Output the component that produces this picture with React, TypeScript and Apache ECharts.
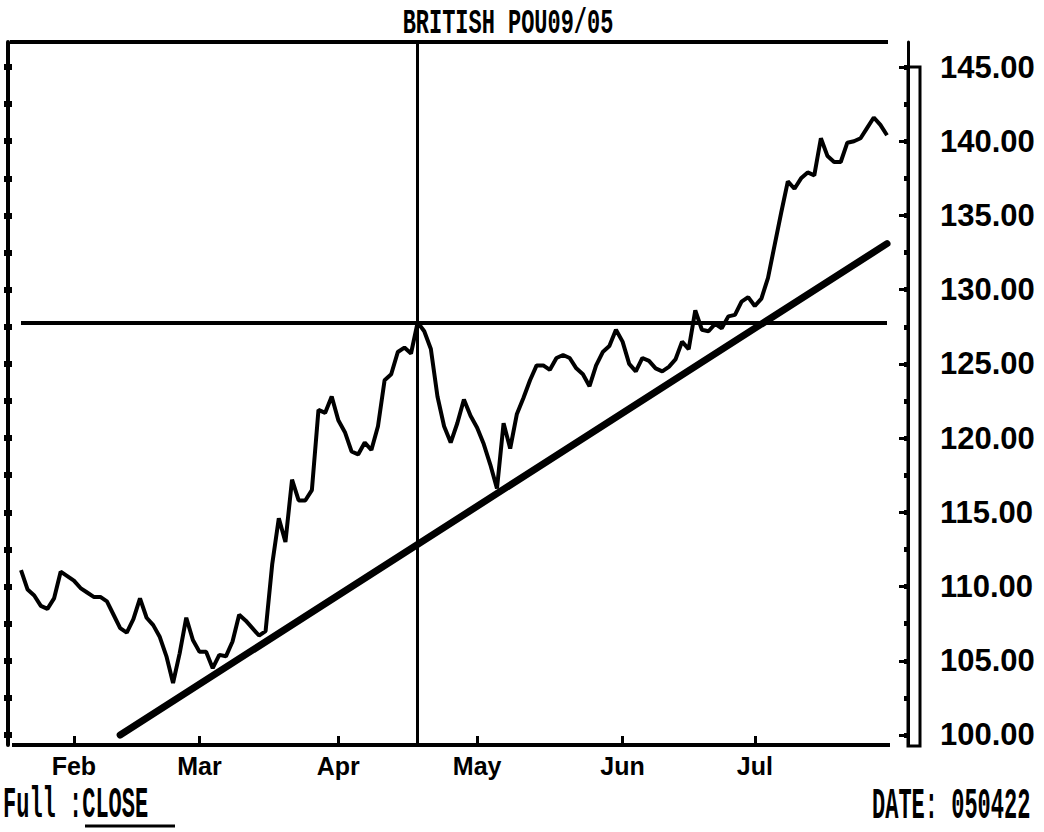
import React, { useEffect, useRef } from "react";
import * as echarts from "echarts";

const TITLE = "BRITISH POU09/05";
const FOOT_LEFT = "Full :CLOSE";
const FOOT_RIGHT = "DATE: 050422";

const START_DATE = "1985-01-22";
const END_DATE = "1985-07-30";
const HOLIDAYS = ["1985-02-18", "1985-04-05", "1985-05-27", "1985-07-04"];
const MONTH_NAMES = ["Jan", "Feb", "Mar", "Apr", "May", "Jun", "Jul", "Aug", "Sep", "Oct", "Nov", "Dec"];

// daily closes, one per trading day from START_DATE to END_DATE
const closeValues = [
  111.1, 109.8, 109.4, 108.7, 108.5, 109.2, 111.0, 110.7, 110.4, 109.9,
  109.6, 109.3, 109.3, 109.0, 108.1, 107.2, 106.9, 107.8, 109.2, 107.9,
  107.4, 106.6, 105.3, 103.5, 105.5, 107.9, 106.4, 105.6, 105.6, 104.5,
  105.4, 105.3, 106.3, 108.1, 107.7, 107.2, 106.7, 107.0, 111.5, 114.6,
  113.0, 117.2, 115.8, 115.8, 116.5, 121.9, 121.7, 122.8, 121.2, 120.4,
  119.1, 118.9, 119.7, 119.2, 120.8, 123.9, 124.3, 125.8, 126.1, 125.7,
  127.8, 127.2, 126.0, 122.8, 120.8, 119.7, 121.0, 122.6, 121.5, 120.7,
  119.6, 118.2, 116.6, 121.0, 119.3, 121.6, 122.7, 123.9, 124.9, 124.9,
  124.6, 125.4, 125.6, 125.4, 124.7, 124.3, 123.5, 124.9, 125.8, 126.2,
  127.3, 126.5, 125.0, 124.5, 125.4, 125.2, 124.7, 124.5, 124.8, 125.3,
  126.5, 126.0, 128.6, 127.3, 127.2, 127.7, 127.4, 128.2, 128.3, 129.2,
  129.5, 128.9, 129.4, 130.8, 133.0, 135.2, 137.3, 136.8, 137.5, 137.9,
  137.7, 140.2, 139.0, 138.6, 138.6, 139.9, 140.0, 140.2, 140.9, 141.6,
  141.1, 140.4,
];

const yTickLabels = [100, 105, 110, 115, 120, 125, 130, 135, 140, 145];
const yMinorTicks = [
  100, 102.5, 105, 107.5, 110, 112.5, 115, 117.5, 120, 122.5,
  125, 127.5, 130, 132.5, 135, 137.5, 140, 142.5, 145,
];
const Y_MIN = 99.326;
const Y_MAX = 146.685;

const resistanceLevel = 127.8;
const cursorIndex = 60;
const trendStartIndex = 15;
const trendStartValue = 100.0;
const trendEndIndex = 131;
const trendEndValue = 133.1;

function tradingDays(start: string, end: string, holidays: string[]) {
  const out: string[] = [];
  const d = new Date(start + "T00:00:00Z");
  const e = new Date(end + "T00:00:00Z");
  while (d <= e) {
    const wd = d.getUTCDay();
    const s = d.toISOString().slice(0, 10);
    if (wd !== 0 && wd !== 6 && !holidays.includes(s)) out.push(s);
    d.setUTCDate(d.getUTCDate() + 1);
  }
  return out;
}

const dates = tradingDays(START_DATE, END_DATE, HOLIDAYS);

const SANS = "'Liberation Sans', Arial, sans-serif";
const MONO = "'Liberation Mono', 'DejaVu Sans Mono', monospace";

export default function App() {
  const ref = useRef<HTMLDivElement>(null);

  useEffect(() => {
    if (!ref.current) return;
    const chart = echarts.init(ref.current, null, { renderer: "svg" });
    const isMonthStart = (i: number) =>
      i > 0 && dates[i].slice(5, 7) !== dates[i - 1].slice(5, 7);

    const baseY = {
      type: "value",
      min: Y_MIN,
      max: Y_MAX,
      splitLine: { show: false },
      axisLabel: { show: false },
    };

    const monoText = (text: string, x: number, y: number, align: string, size: number, scaleX: number, scaleY: number) => ({
      type: "text",
      x,
      y,
      scaleX,
      scaleY,
      style: {
        text,
        fontFamily: MONO,
        fontWeight: "bold",
        fontSize: size,
        fill: "#000",
        align,
        verticalAlign: "middle",
      },
    });

    chart.setOption({
      animation: false,
      backgroundColor: "#ffffff",
      grid: { left: 21, right: 157, top: 42, bottom: 87, containLabel: false, outerBoundsMode: "none" },
      xAxis: {
        type: "category",
        data: dates,
        boundaryGap: false,
        axisLine: { show: true, lineStyle: { color: "#000", width: 4 } },
        axisTick: {
          show: true,
          inside: true,
          length: 9,
          interval: (i: number) => isMonthStart(i),
          lineStyle: { color: "#000", width: 3 },
        },
        axisLabel: {
          interval: (i: number) => isMonthStart(i),
          formatter: (v: string) => MONTH_NAMES[parseInt(v.slice(5, 7), 10) - 1],
          color: "#000",
          fontFamily: SANS,
          fontWeight: "bold",
          fontSize: 25,
          margin: 8,
        },
        splitLine: { show: false },
      },
      yAxis: [
        {
          ...baseY,
          position: "left",
          offset: 13,
          axisLine: { show: true, lineStyle: { color: "#000", width: 4 } },
          axisTick: { show: true, customValues: yMinorTicks, length: 4, lineStyle: { color: "#000", width: 6 } },
        },
        {
          ...baseY,
          position: "left",
          offset: 13,
          axisLine: { show: false },
          axisTick: { show: true, inside: true, customValues: yMinorTicks, length: 4, lineStyle: { color: "#000", width: 6 } },
        },
        {
          ...baseY,
          position: "right",
          offset: 21,
          axisLine: { show: true, lineStyle: { color: "#000", width: 3 } },
          axisTick: { show: true, inside: true, customValues: yMinorTicks, length: 4, lineStyle: { color: "#000", width: 5 } },
        },
        {
          ...baseY,
          position: "right",
          offset: 21,
          axisLine: { show: false },
          axisTick: { show: true, inside: true, customValues: yTickLabels, length: 9, lineStyle: { color: "#000", width: 3 } },
        },
        {
          type: "value",
          min: Y_MIN,
          max: Y_MAX,
          position: "right",
          offset: 33,
          splitLine: { show: false },
          axisLine: { show: false },
          axisTick: { show: false },
          axisLabel: {
            show: true,
            customValues: yTickLabels,
            formatter: (v: number) => v.toFixed(2),
            color: "#000",
            fontFamily: SANS,
            fontWeight: "bold",
            fontSize: 31,
            margin: 20,
          },
        },
      ],
      series: [
        {
          type: "line",
          name: "CLOSE",
          data: closeValues,
          yAxisIndex: 0,
          showSymbol: false,
          symbol: "none",
          lineStyle: { color: "#000", width: 4 },
          markLine: {
            silent: true,
            symbol: ["none", "none"],
            label: { show: false },
            lineStyle: { color: "#000", type: "solid", width: 4 },
            data: [
              { yAxis: resistanceLevel, lineStyle: { color: "#000", type: "solid", width: 4 } },
              { xAxis: dates[cursorIndex], lineStyle: { color: "#000", type: "solid", width: 3 } },
              [
                {
                  coord: [dates[trendStartIndex], trendStartValue],
                  lineStyle: { color: "#000", type: "solid", width: 7, cap: "round" },
                },
                { coord: [dates[trendEndIndex], trendEndValue] },
              ],
            ],
          },
        },
      ],
      graphic: [
        { type: "line", shape: { x1: 10, y1: 42, x2: 888, y2: 42 }, style: { stroke: "#000", lineWidth: 4 } },
        { type: "line", shape: { x1: 12, y1: 745, x2: 890, y2: 745 }, style: { stroke: "#000", lineWidth: 4 } },
        { type: "rect", shape: { x: 908, y: 67, width: 12, height: 679 }, style: { stroke: "#000", fill: "none", lineWidth: 3 } },
        monoText(TITLE, 508, 23, "center", 36, 0.61, 1.0),
        monoText(FOOT_LEFT, 3, 806, "left", 40, 0.55, 1.12),
        { type: "line", shape: { x1: 85, y1: 826, x2: 175, y2: 826 }, style: { stroke: "#000", lineWidth: 3 } },
        monoText(FOOT_RIGHT, 872, 807, "left", 40, 0.55, 1.12),
      ],
    });
    return () => chart.dispose();
  }, []);

  return (
    <div
      ref={ref}
      style={{ position: "absolute", left: 0, top: 0, width: 1044, height: 832, background: "#fff" }}
    />
  );
}
